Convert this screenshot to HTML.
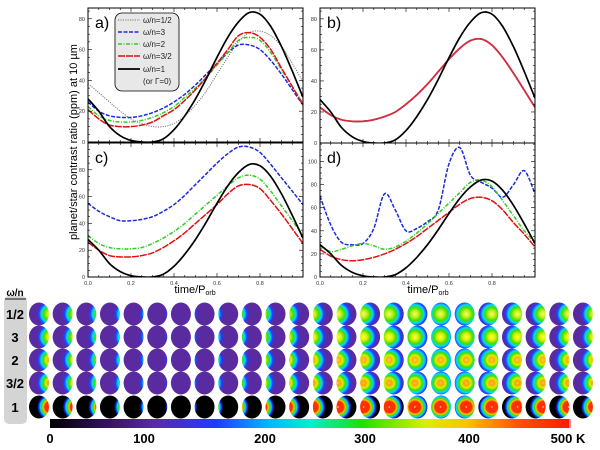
<!DOCTYPE html>
<html><head><meta charset="utf-8"><style>
html,body{margin:0;padding:0;background:#fff;}
svg{display:block;font-family:"Liberation Sans",sans-serif;}
</style></head><body>
<svg id="s" width="600" height="450" viewBox="0 0 600 450" xmlns="http://www.w3.org/2000/svg">
<defs>
<linearGradient id="cbar" x1="0" x2="1" y1="0" y2="0">
<stop offset="0" stop-color="#000"/><stop offset="0.12" stop-color="#3a1268"/><stop offset="0.2" stop-color="#5a2aa8"/>
<stop offset="0.32" stop-color="#1f3cff"/><stop offset="0.42" stop-color="#00b8ff"/><stop offset="0.5" stop-color="#00f0d0"/>
<stop offset="0.6" stop-color="#20e000"/><stop offset="0.72" stop-color="#d8f000"/><stop offset="0.8" stop-color="#ffc000"/>
<stop offset="0.9" stop-color="#ff5000"/><stop offset="1" stop-color="#ff1a00"/>
</linearGradient>
</defs>
<g id="plots"></g>
<g id="grid"></g>
</svg>
<script>
const NS='http://www.w3.org/2000/svg';
const times=[0,0.05,0.1,0.15,0.2,0.25,0.3,0.35,0.4,0.45,0.5,0.55,0.6,0.65,0.7,0.75,0.8,0.85,0.9,0.95,1.0];
const blackCurve=[28,20,10,4,1,0,0,2,8,17,28,41,55,68,78,84,83,75,62,46,29];
const aGray=[38,32,26,20,15,12,10,10,12,17,24,33,44,55,65,71,72,69,62,51,39];
const aBlue=[26,20,17,16,16,17,19,22,26,31,37,44,51,58,63,63,60,53,44,34,24];
const aGreen=[23,17,14,13,13,14,16,19,23,29,35,42,50,58,66,68,66,58,47,36,25];
const aRed=[21,15,11,10,10,11,13,17,21,27,34,42,51,60,69,71,68,60,48,36,24];
const bAll=[23,18,15,14,14,15,17,20,25,31,38,46,54,61,66,67,63,55,45,34,23];
const cBlue=[55,49,45,42,42,43,45,49,54,61,69,77,85,92,97,97,93,84,74,64,54];
const cGreen=[31,25,22,21,21,22,25,29,34,40,47,54,61,68,74,76,73,64,53,42,31];
const cRed=[26,20,16,15,15,16,18,22,27,33,40,47,54,62,68,69,66,57,47,36,25];
const dBlue=[70,45,30,28,29,42,72,58,40,42,48,58,98,112,88,82,77,69,80,92,72];
const dGreen=[27,22,24,27,29,27,24,26,31,38,46,55,64,73,82,84,78,66,53,40,30];
const dRed=[24,18,15,14,15,17,20,24,29,35,42,49,56,63,68,69,66,58,47,37,26];
const xTicks=['0.0','0.2','0.4','0.6','0.8'];
const cbTicks=['0','100','200','300','400','500 K'];
const cbTickVals=[0,100,200,300,400,500];
const rowLabels=['1/2','3','2','3/2','1'];

function el(tag,attrs,parent,text){const e=document.createElementNS(NS,tag);for(const k in attrs)e.setAttribute(k,attrs[k]);if(text!==undefined)e.textContent=text;(parent||document.getElementById('s')).appendChild(e);return e;}
const plots=document.getElementById('plots');

function smoothPath(pts){let d='M'+pts[0][0].toFixed(1)+','+pts[0][1].toFixed(1);
for(let i=0;i<pts.length-1;i++){const p0=pts[Math.max(0,i-1)],p1=pts[i],p2=pts[i+1],p3=pts[Math.min(pts.length-1,i+2)];
const c1=[p1[0]+(p2[0]-p0[0])/6,p1[1]+(p2[1]-p0[1])/6],c2=[p2[0]-(p3[0]-p1[0])/6,p2[1]-(p3[1]-p1[1])/6];
d+=' C'+c1[0].toFixed(1)+','+c1[1].toFixed(1)+' '+c2[0].toFixed(1)+','+c2[1].toFixed(1)+' '+p2[0].toFixed(1)+','+p2[1].toFixed(1);}return d;}

function panel(name,x0,x1,y0,y1,ymax,yticks,label,series,xlab){
 const g=el('g',{},plots);
 
 
 const X=t=>x0+(x1-x0)*t, Y=v=>y1-(y1-y0)*v/ymax;
 const cid='clip'+name;const cp=el('clipPath',{id:cid},g);el('rect',{x:x0,y:y0,width:x1-x0,height:y1-y0},cp);
 series.forEach(s=>{const p=el('path',{d:smoothPath(times.map((t,i)=>[X(t),Y(s.v[i])])),fill:'none',stroke:s.c,'stroke-width':s.w||1.5,'stroke-dasharray':s.d||'','clip-path':'url(#'+cid+')'},g);
  
  });
 const fr=el('rect',{x:x0,y:y0,width:x1-x0,height:y1-y0,fill:'none',stroke:'#000','stroke-width':1},g);
 
 
 for(let t=0;t<=1.0001;t+=0.05){const L=(Math.round(t*100)%20===0)?4:2;el('line',{x1:X(t),x2:X(t),y1:y1,y2:y1-L,stroke:'#000','stroke-width':0.6},g);el('line',{x1:X(t),x2:X(t),y1:y0,y2:y0+L,stroke:'#000','stroke-width':0.6},g);}
 for(let v=0;v<=ymax;v+=5){const L=(v%20===0)?4:2;el('line',{x1:x0,x2:x0+L,y1:Y(v),y2:Y(v),stroke:'#000','stroke-width':0.6},g);el('line',{x1:x1,x2:x1-L,y1:Y(v),y2:Y(v),stroke:'#000','stroke-width':0.6},g);}
 yticks.forEach(v=>{const t=el('text',{x:x0-3,y:Y(v)+2,'font-size':5.5,'text-anchor':'end',fill:'#333'},g,String(v));
  
  });
 if(xlab){xTicks.forEach(s=>{const t=el('text',{x:X(parseFloat(s)),y:y1+8,'font-size':5.5,'text-anchor':'middle',fill:'#333'},g,s);
  
  });}
 const lb=el('text',{x:x0+7,y:y0+20,'font-size':16,fill:'#000'},g,label);
 
 
}
const BL={n:'omega-1',v:blackCurve,c:'#000',w:1.7};
panel('a',88,303,8,142,87,[0,20,40,60,80],'a)',[
 {n:'omega-half',v:aGray,c:'#777',w:1,d:'1.2,1.2'},{n:'omega-3',v:aBlue,c:'#1a2adc',d:'4,1.5'},
 {n:'omega-2',v:aGreen,c:'#33cc22',d:'4,1.5,1,1.5'},{n:'omega-3-2',v:aRed,c:'#e01010',d:'7,1'},BL],false);
panel('b',320,535,8,143,87,[0,20,40,60,80],'b)',[
 {n:'omega-3',v:bAll,c:'#1a2adc',d:'4,1.5'},{n:'omega-2',v:bAll,c:'#33cc22'},{n:'omega-3-2',v:bAll,c:'#d82a40',w:1.8},BL],false);
panel('c',88,303,143,277,100,[0,20,40,60,80],'c)',[
 {n:'omega-3',v:cBlue,c:'#1a2adc',d:'4,1.5'},{n:'omega-2',v:cGreen,c:'#33cc22',d:'4,1.5,1,1.5'},{n:'omega-3-2',v:cRed,c:'#e01010',d:'7,1'},BL],true);
panel('d',320,535,143,277,116,[0,20,40,60,80,100],'d)',[
 {n:'omega-3',v:dBlue,c:'#1a2adc',d:'4,1.5'},{n:'omega-2',v:dGreen,c:'#33cc22',d:'4,1.5,1,1.5'},{n:'omega-3-2',v:dRed,c:'#e01010',d:'7,1'},BL],true);

let yt=el('text',{x:0,y:0,'font-size':11,'text-anchor':'middle',transform:'translate(77,142) rotate(-90)'},plots,'planet/star contrast ratio (ppm) at 10 µm');


[[195],[428]].forEach((p,i)=>{const t=el('text',{x:p[0],y:293,'font-size':11,'text-anchor':'middle'},plots);
 
 
 el('tspan',{},t,'time/P');el('tspan',{'font-size':7,dy:2},t,'orb');});

const lg=el('g',{},plots);


el('rect',{x:115,y:13,width:64,height:78,rx:7,fill:'#e8e8e8',stroke:'#000','stroke-width':0.8},lg);
const legItems=[['ω/n=1/2','#777','1.2,1.2',20,1],['ω/n=3','#1a2adc','4,1.5',32,1.5],['ω/n=2','#33cc22','4,1.5,1,1.5',44,1.5],['ω/n=3/2','#e01010','7,1',56,1.5],['ω/n=1','#000','',69,1.7]];
legItems.forEach(it=>{const e=el('g',{},lg);
 
 
 el('line',{x1:118,x2:140,y1:it[3],y2:it[3],stroke:it[1],'stroke-width':it[4],'stroke-dasharray':it[2]},e);
 el('text',{x:143,y:it[3]+3,'font-size':8,fill:'#222'},e,it[0]);});
el('text',{x:143,y:84,'font-size':8,fill:'#222'},lg,'(or Γ=0)');

const grid=document.getElementById('grid');
const box=el('rect',{x:4,y:296,width:23,height:128,rx:5,fill:'#d4d4d4'},grid);


let hd=el('text',{x:15,y:296,'font-size':10,'font-weight':'bold','text-anchor':'middle'},grid,'ω/n');


el('line',{x1:5,x2:26,y1:299,y2:299,stroke:'#555','stroke-width':1.5},grid);
const rowY=[314,337,360,383,407];
const spotStops=[
 [['#f0ff60',0],['#c8f020',0.2],['#40e000',0.42],['#00d8ff',0.58],['#2040ff',0.72],['#5a2aa0',0.88]],
 [['#ffff40',0],['#d8f000',0.22],['#40e000',0.42],['#00d8ff',0.58],['#2040ff',0.72],['#5a2aa0',0.88]],
 [['#ffd060',0],['#ffb000',0.15],['#d8f000',0.3],['#40e000',0.45],['#00d8ff',0.6],['#2040ff',0.74],['#5a2aa0',0.9]],
 [['#ffc060',0],['#ffa000',0.15],['#d8f000',0.3],['#40e000',0.45],['#00d8ff',0.6],['#2040ff',0.74],['#5a2aa0',0.9]],
 [['#ffffff',0],['#ff3000',0.08],['#ff3000',0.38],['#ffc000',0.48],['#40e000',0.58],['#00d8ff',0.68],['#1030ff',0.78],['#000000',0.9]]];
const defs=document.querySelector('defs');
rowLabels.forEach((lab,r)=>{
 const t=el('text',{x:15,y:rowY[r]+5,'font-size':13,'font-weight':'bold','text-anchor':'middle'},grid,lab);
 
 
 for(let c=0;c<24;c++){
  const cx=39+c*23.65,cy=rowY[r],rx=10,ry=11.5;
  const tt=c/23;let ph=2*Math.PI*(tt-0.75);while(ph<-Math.PI)ph+=2*Math.PI;while(ph>Math.PI)ph-=2*Math.PI;
  const dx=rx*1.15*ph/(Math.PI/2);
  const gid='g'+r+'_'+c;
  const rg=el('radialGradient',{id:gid,gradientUnits:'userSpaceOnUse',cx:cx+dx,cy:cy,r:r===4?15:16},defs);
  spotStops[r].forEach(s=>el('stop',{offset:s[1],'stop-color':s[0]},rg));
  el('stop',{offset:1,'stop-color':r===4?'#000':'#5a2aa0'},rg);
  const d=el('ellipse',{cx:cx,cy:cy,rx:rx,ry:ry,fill:'url(#'+gid+')'},grid);
  
  
 }
});
const cb=el('rect',{x:50,y:419,width:521,height:9,fill:'url(#cbar)'},grid);


el('line',{x1:570,x2:570,y1:419,y2:428,stroke:'#fff','stroke-width':1},grid);
// nonlinear label placement
const cbKnots=[[0,50],[100,144],[200,265],[300,365],[400,469],[500,556]];
function cbX(v){for(let i=0;i<cbKnots.length-1;i++){const a=cbKnots[i],b=cbKnots[i+1];if(v<=b[0])return a[1]+(b[1]-a[1])*(v-a[0])/(b[0]-a[0]);}return cbKnots[cbKnots.length-1][1];}
cbTicks.forEach((s,i)=>{const v=cbTickVals[i];const t=el('text',{x:cbX(v)+(i===5?12:0),y:443,'font-size':13,'font-weight':'bold','text-anchor':'middle'},grid,s);
 
 });
</script>
</body></html>
